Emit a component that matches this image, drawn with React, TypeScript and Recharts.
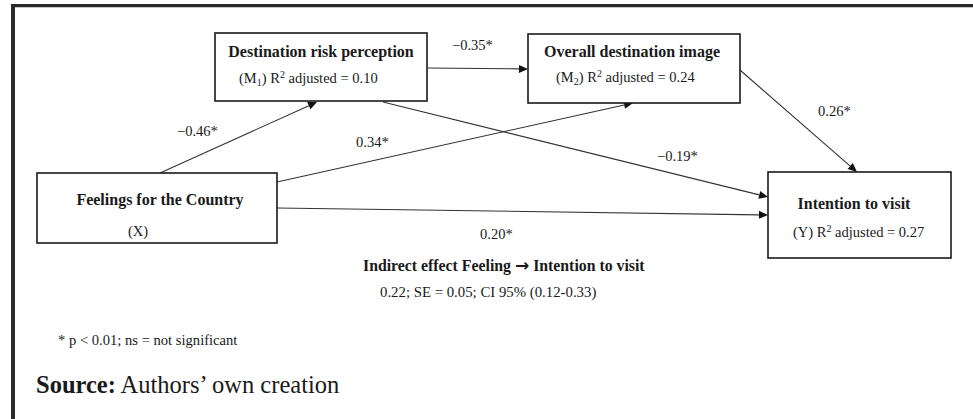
import React from 'react'
import { ComposedChart, XAxis, YAxis, Scatter, ReferenceLine, ReferenceDot } from 'recharts'

const W = 973
const H = 419

// model variables
const nodeIds = ['M1', 'M2', 'X', 'Y']
const nodeTitles = [
  'Destination risk perception',
  'Overall destination image',
  'Feelings for the Country',
  'Intention to visit',
]
const nodeVars = ['M', 'M', 'X', 'Y']
const nodeVarIdx = ['1', '2', '', '']
const nodeR2 = ['0.10', '0.24', '', '0.27']

// paths and coefficients
const pathFrom = ['X', 'M1', 'M2', 'X', 'M1', 'X']
const pathTo = ['M1', 'M2', 'Y', 'M2', 'Y', 'Y']
const pathCoef = ['−0.46*', '−0.35*', '0.26*', '0.34*', '−0.19*', '0.20*']

const indirectFrom = 'Indirect effect Feeling'
const indirectTo = 'Intention to visit'
const indirectStats = '0.22; SE = 0.05; CI 95% (0.12-0.33)'
const footnote = '* p < 0.01; ns = not significant'
const sourceLabel = 'Source:'
const sourceText = ' Authors’ own creation'

// layout (pixel space of the figure)
const boxes = {
  M1: { x: 215, y: 33, w: 212, h: 68, tx: 106, ty: 24, sx: 24, sy: 50 },
  M2: { x: 528, y: 34, w: 212, h: 69, tx: 104, ty: 23, sx: 28, sy: 48 },
  X: { x: 37, y: 173, w: 240, h: 70, tx: 123, ty: 32, sx: 91, sy: 63 },
  Y: { x: 768, y: 172, w: 183, h: 86, tx: 86, ty: 37, sx: 25, sy: 65 },
}
const pathGeom = {
  'X-M1': { a: [160, 173], b: [317, 102], l: [177, 136] },
  'M1-M2': { a: [427, 68], b: [528, 69], l: [452, 50] },
  'M2-Y': { a: [740, 70], b: [857, 172], l: [818, 116] },
  'X-M2': { a: [277, 182], b: [633, 103], l: [356, 147] },
  'M1-Y': { a: [383, 102], b: [768, 197], l: [657, 161] },
  'X-Y': { a: [277, 208], b: [768, 215], l: [480, 239] },
}

const FONT = '"Liberation Serif", "Times New Roman", serif'
const INK = '#1a1a1a'
const LINE = '#333'

const nodeRows = nodeIds.map((id, i) => {
  const b = boxes[id]
  return {
    id,
    title: nodeTitles[i],
    v: nodeVars[i],
    vi: nodeVarIdx[i],
    r2: nodeR2[i],
    px: b.x + b.w / 2,
    py: b.y + b.h / 2,
    box: b,
  }
})

const NodeBox = (props) => {
  const { cx, cy, payload } = props
  const b = payload.box
  const left = cx - b.w / 2
  const top = cy - b.h / 2
  return (
    <g fontFamily={FONT} fill={INK}>
      <rect x={left} y={top} width={b.w} height={b.h} fill="#fff" stroke={INK} strokeWidth={1.6} />
      <text x={left + b.tx} y={top + b.ty} textAnchor="middle" fontWeight="bold" fontSize={16}>
        {payload.title}
      </text>
      <text x={left + b.sx} y={top + b.sy} fontSize={14.5}>
        <tspan>({payload.v}</tspan>
        {payload.vi ? (
          <tspan fontSize={10} dy={3}>
            {payload.vi}
          </tspan>
        ) : null}
        <tspan dy={payload.vi ? -3 : 0}>)</tspan>
        {payload.r2 ? (
          <>
            <tspan> R</tspan>
            <tspan fontSize={10} dy={-5}>
              2
            </tspan>
            <tspan dy={5}> adjusted = {payload.r2}</tspan>
          </>
        ) : null}
      </text>
    </g>
  )
}

const Arrow = (p) => {
  const { x1, y1, x2, y2 } = p
  const ang = Math.atan2(y2 - y1, x2 - x1)
  const len = 9
  const half = 4
  const bx = x2 - len * Math.cos(ang)
  const by = y2 - len * Math.sin(ang)
  const nx = -Math.sin(ang) * half
  const ny = Math.cos(ang) * half
  return (
    <g>
      <line x1={x1} y1={y1} x2={bx} y2={by} stroke={LINE} strokeWidth={1.1} />
      <polygon points={`${x2},${y2} ${bx + nx},${by + ny} ${bx - nx},${by - ny}`} fill="#111" />
    </g>
  )
}

const textAt = (content, opts = {}) => (p) => (
  <text
    x={p.cx}
    y={p.cy}
    fontFamily={FONT}
    fill={INK}
    fontSize={opts.size || 14.5}
    fontWeight={opts.bold ? 'bold' : 'normal'}
    textAnchor={opts.anchor || 'start'}
  >
    {content}
  </text>
)

export default function App() {
  return (
    <div style={{ position: 'absolute', left: 0, top: 0, background: '#fff' }}>
      <ComposedChart width={W} height={H} data={nodeRows} margin={{ top: 0, right: 0, bottom: 0, left: 0 }}>
        <XAxis type="number" dataKey="px" domain={[0, W]} hide />
        <YAxis type="number" dataKey="py" domain={[0, H]} reversed hide />

        {/* frame */}
        <ReferenceLine
          segment={[{ x: 11, y: 5.7 }, { x: W, y: 5.7 }]}
          stroke="#2a2a2a"
          strokeWidth={3.2}
          ifOverflow="visible"
        />
        <ReferenceLine
          segment={[{ x: 13, y: 4.1 }, { x: 13, y: H }]}
          stroke="#2a2a2a"
          strokeWidth={4}
          ifOverflow="visible"
        />

        {pathFrom.map((f, i) => {
          const g = pathGeom[`${f}-${pathTo[i]}`]
          return (
            <ReferenceLine
              key={`p${i}`}
              segment={[{ x: g.a[0], y: g.a[1] }, { x: g.b[0], y: g.b[1] }]}
              ifOverflow="visible"
              shape={Arrow}
            />
          )
        })}

        <Scatter dataKey="py" isAnimationActive={false} shape={NodeBox} />

        {pathFrom.map((f, i) => {
          const g = pathGeom[`${f}-${pathTo[i]}`]
          return (
            <ReferenceDot
              key={`l${i}`}
              x={g.l[0]}
              y={g.l[1]}
              r={0}
              ifOverflow="visible"
              shape={textAt(pathCoef[i])}
            />
          )
        })}

        <ReferenceDot
          x={363}
          y={271}
          r={0}
          ifOverflow="visible"
          shape={(p) => (
            <text x={p.cx} y={p.cy} fontFamily={FONT} fill={INK} fontSize={15.8} fontWeight="bold">
              <tspan>{indirectFrom} </tspan>
              <tspan fontFamily="DejaVu Sans" fontSize={17}>→</tspan>
              <tspan> {indirectTo}</tspan>
            </text>
          )}
        />
        <ReferenceDot x={380} y={297} r={0} ifOverflow="visible" shape={textAt(indirectStats, { size: 14.8 })} />
        <ReferenceDot x={58} y={345} r={0} ifOverflow="visible" shape={textAt(footnote, { size: 14.6 })} />
        <ReferenceDot
          x={36}
          y={393}
          r={0}
          ifOverflow="visible"
          shape={(p) => (
            <text x={p.cx} y={p.cy} fontFamily={FONT} fill={INK} fontSize={24.5}>
              <tspan fontWeight="bold">{sourceLabel}</tspan>
              <tspan>{sourceText}</tspan>
            </text>
          )}
        />
      </ComposedChart>
    </div>
  )
}
